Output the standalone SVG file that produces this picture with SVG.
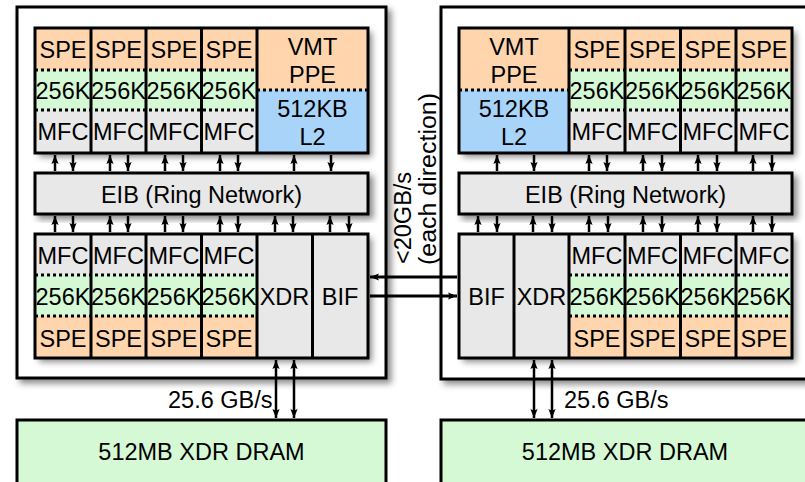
<svg xmlns="http://www.w3.org/2000/svg" width="805" height="482" viewBox="0 0 805 482">
<defs>
<filter id="sh" x="-10%" y="-10%" width="130%" height="130%">
<feDropShadow dx="4" dy="4" stdDeviation="3" flood-color="#000" flood-opacity="0.45"/>
</filter>
<marker id="ah" viewBox="0 0 10 8" refX="10" refY="4" markerWidth="9" markerHeight="8" markerUnits="userSpaceOnUse" orient="auto-start-reverse">
<path d="M0,0 L10,4 L0,8 L2,4 z" fill="#000"/>
</marker>
</defs>
<style>
.chip{fill:#fff;stroke:#000;stroke-width:3}
.box{fill:none;stroke:#000;stroke-width:3}
.spe{fill:#FFD5AD}
.mem{fill:#D5F9D5}
.mfc{fill:#E8E8E8}
.l2{fill:#A9D4FA}
.sep{stroke:#000;stroke-width:3}
.dot{stroke:#000;stroke-width:3;stroke-dasharray:3 3}
.t{font-family:"Liberation Sans",Arial,Helvetica,sans-serif;font-size:23.5px;fill:#000;text-anchor:middle}
.ts{font-family:"Liberation Sans",Arial,Helvetica,sans-serif;font-size:23.5px;fill:#000}
.a{stroke:#000;stroke-width:2.5;fill:none;marker-end:url(#ah)}
.d{stroke:#000;stroke-width:2.5;fill:none;marker-start:url(#ah);marker-end:url(#ah)}
.b{stroke:#000;stroke-width:3;fill:none;marker-end:url(#ah)}
</style>

<!-- chip outlines -->
<g id="chip-left"><rect class="chip" x="17" y="7" width="369" height="371" filter="url(#sh)"/></g>
<g id="chip-right"><rect class="chip" x="441" y="7" width="390" height="372" filter="url(#sh)"/></g>

<!-- Left top block -->
<g id="left-top">
<rect x="35" y="28" width="333" height="125" fill="#fff" filter="url(#sh)"/>
<rect class="spe" x="35" y="28" width="222" height="42"/>
<rect class="mem" x="35" y="70" width="222" height="40"/>
<rect class="mfc" x="35" y="110" width="222" height="43"/>
<rect class="spe" x="257" y="28" width="111" height="62"/>
<rect class="l2" x="257" y="90" width="111" height="63"/>
<line class="dot" x1="35" y1="70" x2="257" y2="70"/>
<line class="dot" x1="35" y1="110" x2="257" y2="110"/>
<line class="dot" x1="257" y1="90" x2="368" y2="90"/>
<line class="sep" x1="91" y1="28" x2="91" y2="153"/>
<line class="sep" x1="146" y1="28" x2="146" y2="153"/>
<line class="sep" x1="201.5" y1="28" x2="201.5" y2="153"/>
<line class="sep" x1="257" y1="28" x2="257" y2="153"/>
<rect class="box" x="35" y="28" width="333" height="125"/>
<g class="t">
<text x="63" y="58">SPE</text><text x="118.5" y="58">SPE</text><text x="174" y="58">SPE</text><text x="229" y="58">SPE</text>
<text x="63" y="99">256K</text><text x="118.5" y="99">256K</text><text x="174" y="99">256K</text><text x="229" y="99">256K</text>
<text x="63" y="140">MFC</text><text x="118.5" y="140">MFC</text><text x="174" y="140">MFC</text><text x="229" y="140">MFC</text>
<text x="312.5" y="55">VMT</text><text x="312.5" y="83">PPE</text>
<text x="312.5" y="117">512KB</text><text x="312.5" y="145">L2</text>
</g>
</g>

<!-- Left EIB -->
<g id="left-eib">
<rect class="mfc" x="35" y="173" width="333" height="41" stroke="#000" stroke-width="3" filter="url(#sh)"/>
<text class="t" x="201.5" y="203">EIB (Ring Network)</text>
</g>

<!-- Left bottom block -->
<g id="left-bottom">
<rect x="35" y="234" width="333" height="124" fill="#fff" filter="url(#sh)"/>
<rect class="mfc" x="35" y="234" width="222" height="41"/>
<rect class="mem" x="35" y="275" width="222" height="41"/>
<rect class="spe" x="35" y="316" width="222" height="42"/>
<rect class="mfc" x="257" y="234" width="111" height="124"/>
<line class="dot" x1="35" y1="275" x2="257" y2="275"/>
<line class="dot" x1="35" y1="316" x2="257" y2="316"/>
<line class="sep" x1="91" y1="234" x2="91" y2="358"/>
<line class="sep" x1="146" y1="234" x2="146" y2="358"/>
<line class="sep" x1="201.5" y1="234" x2="201.5" y2="358"/>
<line class="sep" x1="257" y1="234" x2="257" y2="358"/>
<line class="sep" x1="312.5" y1="234" x2="312.5" y2="358"/>
<rect class="box" x="35" y="234" width="333" height="124"/>
<g class="t">
<text x="63" y="264">MFC</text><text x="118.5" y="264">MFC</text><text x="174" y="264">MFC</text><text x="229" y="264">MFC</text>
<text x="63" y="305">256K</text><text x="118.5" y="305">256K</text><text x="174" y="305">256K</text><text x="229" y="305">256K</text>
<text x="63" y="347">SPE</text><text x="118.5" y="347">SPE</text><text x="174" y="347">SPE</text><text x="229" y="347">SPE</text>
<text x="284.5" y="305">XDR</text><text x="340" y="305">BIF</text>
</g>
</g>

<!-- Right top block -->
<g id="right-top">
<rect x="459" y="28" width="333" height="125" fill="#fff" filter="url(#sh)"/>
<rect class="spe" x="459" y="28" width="110" height="62"/>
<rect class="l2" x="459" y="90" width="110" height="63"/>
<rect class="spe" x="569" y="28" width="223" height="42"/>
<rect class="mem" x="569" y="70" width="223" height="40"/>
<rect class="mfc" x="569" y="110" width="223" height="43"/>
<line class="dot" x1="459" y1="90" x2="569" y2="90"/>
<line class="dot" x1="569" y1="70" x2="792" y2="70"/>
<line class="dot" x1="569" y1="110" x2="792" y2="110"/>
<line class="sep" x1="569" y1="28" x2="569" y2="153"/>
<line class="sep" x1="625" y1="28" x2="625" y2="153"/>
<line class="sep" x1="680.5" y1="28" x2="680.5" y2="153"/>
<line class="sep" x1="736" y1="28" x2="736" y2="153"/>
<rect class="box" x="459" y="28" width="333" height="125"/>
<g class="t">
<text x="514" y="55">VMT</text><text x="514" y="83">PPE</text>
<text x="514" y="117">512KB</text><text x="514" y="145">L2</text>
<text x="597" y="58">SPE</text><text x="652.5" y="58">SPE</text><text x="708" y="58">SPE</text><text x="764" y="58">SPE</text>
<text x="597" y="99">256K</text><text x="652.5" y="99">256K</text><text x="708" y="99">256K</text><text x="764" y="99">256K</text>
<text x="597" y="140">MFC</text><text x="652.5" y="140">MFC</text><text x="708" y="140">MFC</text><text x="764" y="140">MFC</text>
</g>
</g>

<!-- Right EIB -->
<g id="right-eib">
<rect class="mfc" x="459" y="173" width="333" height="41" stroke="#000" stroke-width="3" filter="url(#sh)"/>
<text class="t" x="625.5" y="203">EIB (Ring Network)</text>
</g>

<!-- Right bottom block -->
<g id="right-bottom">
<rect x="459" y="234" width="333" height="124" fill="#fff" filter="url(#sh)"/>
<rect class="mfc" x="459" y="234" width="110" height="124"/>
<rect class="mfc" x="569" y="234" width="223" height="41"/>
<rect class="mem" x="569" y="275" width="223" height="41"/>
<rect class="spe" x="569" y="316" width="223" height="42"/>
<line class="dot" x1="569" y1="275" x2="792" y2="275"/>
<line class="dot" x1="569" y1="316" x2="792" y2="316"/>
<line class="sep" x1="514" y1="234" x2="514" y2="358"/>
<line class="sep" x1="569" y1="234" x2="569" y2="358"/>
<line class="sep" x1="625" y1="234" x2="625" y2="358"/>
<line class="sep" x1="680.5" y1="234" x2="680.5" y2="358"/>
<line class="sep" x1="736" y1="234" x2="736" y2="358"/>
<rect class="box" x="459" y="234" width="333" height="124"/>
<g class="t">
<text x="486.5" y="305">BIF</text><text x="541.5" y="305">XDR</text>
<text x="597" y="264">MFC</text><text x="652.5" y="264">MFC</text><text x="708" y="264">MFC</text><text x="764" y="264">MFC</text>
<text x="597" y="305">256K</text><text x="652.5" y="305">256K</text><text x="708" y="305">256K</text><text x="764" y="305">256K</text>
<text x="597" y="347">SPE</text><text x="652.5" y="347">SPE</text><text x="708" y="347">SPE</text><text x="764" y="347">SPE</text>
</g>
</g>

<!-- DRAM -->
<g id="dram-left">
<rect class="mem" x="17" y="420" width="369" height="70" stroke="#000" stroke-width="3"/>
<text class="t" x="201.5" y="460">512MB XDR DRAM</text>
</g>
<g id="dram-right">
<rect class="mem" x="441" y="420" width="390" height="70" stroke="#000" stroke-width="3"/>
<text class="t" x="625" y="460">512MB XDR DRAM</text>
</g>

<!-- labels -->
<g id="labels">
<text class="ts" x="168" y="408">25.6 GB/s</text>
<text class="ts" x="564" y="408">25.6 GB/s</text>
<text class="ts" transform="translate(411,264) rotate(-90)">&lt;20GB/s</text>
<text class="ts" transform="translate(436,265) rotate(-90)" textLength="172" lengthAdjust="spacingAndGlyphs">(each direction)</text>
</g>

<!-- connectors -->
<g id="connectors">
<!-- left top: block <-> EIB -->
<path class="a" d="M55,171 V155"/><path class="a" d="M73,155 V171"/>
<path class="a" d="M110,171 V155"/><path class="a" d="M128,155 V171"/>
<path class="a" d="M165,171 V155"/><path class="a" d="M183,155 V171"/>
<path class="a" d="M220,171 V155"/><path class="a" d="M238,155 V171"/>
<path class="a" d="M294,171 V155"/><path class="a" d="M331,155 V171"/>
<!-- left bottom: EIB <-> block -->
<path class="a" d="M55,232 V216"/><path class="a" d="M73,216 V232"/>
<path class="a" d="M110,232 V216"/><path class="a" d="M128,216 V232"/>
<path class="a" d="M165,232 V216"/><path class="a" d="M183,216 V232"/>
<path class="a" d="M220,232 V216"/><path class="a" d="M238,216 V232"/>
<path class="a" d="M275,232 V216"/><path class="a" d="M293,216 V232"/>
<path class="a" d="M330,232 V216"/><path class="a" d="M349,216 V232"/>
<!-- right top -->
<path class="a" d="M497,171 V155"/><path class="a" d="M534,155 V171"/>
<path class="a" d="M589,171 V155"/><path class="a" d="M607,155 V171"/>
<path class="a" d="M643,171 V155"/><path class="a" d="M662,155 V171"/>
<path class="a" d="M698,171 V155"/><path class="a" d="M717,155 V171"/>
<path class="a" d="M753,171 V155"/><path class="a" d="M772,155 V171"/>
<!-- right bottom -->
<path class="a" d="M478,232 V216"/><path class="a" d="M497,216 V232"/>
<path class="a" d="M533,232 V216"/><path class="a" d="M552,216 V232"/>
<path class="a" d="M589,232 V216"/><path class="a" d="M608,216 V232"/>
<path class="a" d="M643,232 V216"/><path class="a" d="M662,216 V232"/>
<path class="a" d="M698,232 V216"/><path class="a" d="M717,216 V232"/>
<path class="a" d="M753,232 V216"/><path class="a" d="M772,216 V232"/>
<!-- BIF to BIF -->
<path class="b" d="M457,277 H370"/>
<path class="b" d="M370,296 H457"/>
<!-- memory -->
<path class="d" d="M276,360 V418"/><path class="d" d="M294,360 V418"/>
<path class="d" d="M534,360 V418"/><path class="d" d="M552,360 V418"/>
</g>
</svg>
